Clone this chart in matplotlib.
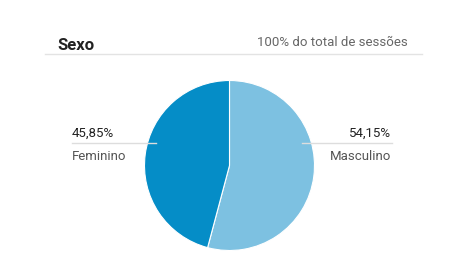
import matplotlib
matplotlib.use("Agg")
import matplotlib.pyplot as plt

plt.rcParams['font.family'] = ['Roboto', 'DejaVu Sans']

categories = ["Masculino", "Feminino"]
values = [54.15, 45.85]
pct_labels = ["54,15%", "45,85%"]
colors = ["#7dc1e1", "#058dc7"]
title = "Sexo"
subtitle = "100% do total de sessões"

W, H = 455, 278
fig = plt.figure(figsize=(W / 100, H / 100), dpi=100)
ax = fig.add_axes([0, 0, 1, 1])

def Y(y):
    return H - y

# pie
cx, cy, r = 229.5, 165.5, 85
ax.pie(values, colors=colors, startangle=90, counterclock=False,
       center=(cx, Y(cy)), radius=r, frame=True,
       wedgeprops=dict(edgecolor='white', linewidth=0.8))
ax.set_xlim(0, W)
ax.set_ylim(0, H)
ax.set_aspect('equal')
ax.axis('off')

# header
ax.text(57, Y(45), title, fontsize=12, fontweight='bold', color='#222222', va='center', ha='left')
ax.text(408, Y(43), subtitle, fontsize=9.5, color='#666666', va='center', ha='right')
ax.plot([45, 422], [Y(53.5), Y(53.5)], color='#e3e3e3', lw=1)

# labels with leader lines
ax.plot([302, 392], [Y(143), Y(143)], color='#dddddd', lw=1, zorder=5)
ax.plot([72, 156], [Y(143), Y(143)], color='#dddddd', lw=1, zorder=5)
ax.text(391, Y(133), pct_labels[0], fontsize=9.5, color='#222222', ha='right', va='center')
ax.text(391, Y(156), categories[0], fontsize=9.5, color='#555555', ha='right', va='center')
ax.text(72, Y(133), pct_labels[1], fontsize=9.5, color='#222222', ha='left', va='center')
ax.text(72, Y(156), categories[1], fontsize=9.5, color='#555555', ha='left', va='center')

fig.savefig("out.png", dpi=100)
